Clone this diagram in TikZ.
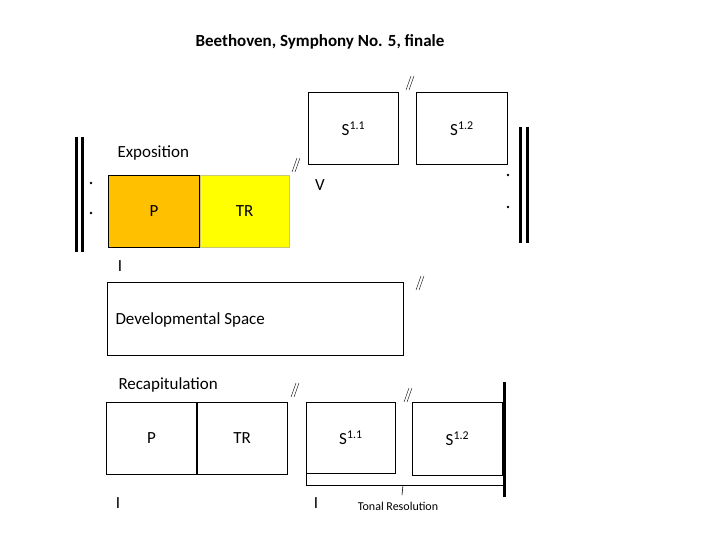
\documentclass[tikz,border=0pt]{standalone}
\usepackage{fontspec}
\setmainfont{Carlito}
\definecolor{porange}{HTML}{FFC000}
\definecolor{tryellow}{HTML}{FFFF00}
\definecolor{trborder}{HTML}{C8C878}
\begin{document}
\begin{tikzpicture}[x=1pt, y=-1pt, font=\fontsize{17}{19}\selectfont,
    box/.style={draw, line width=0.8pt, minimum width=#1, minimum height=72pt, inner sep=0pt, anchor=north west},
    bar/.style={line width=3pt},
    slashes/.pic={\draw[line width=0.4pt] (-4,7) -- (1,-7) (-1,7) -- (4,-7);}]
  \useasboundingbox (0,0) rectangle (720,540);
  \node[font=\fontsize{17}{19}\selectfont\bfseries] (title) at (320,42) {Beethoven, Symphony No. 5, finale};
  % exposition
  \node[anchor=west] (expo) at (114,153) {Exposition};
  \node[box=91pt, fill=porange] (expP) at (108,175) {P};
  \node[box=89pt, fill=tryellow, draw=trborder, anchor=west] (expTR) at (expP.east) {TR};
  \node[box=90pt] (expS11) at (308,92) {S\textsuperscript{1.1}};
  \node[box=91pt] (expS12) at (416,92) {S\textsuperscript{1.2}};
  \node (expI) at (120,266) {I};
  \node (expV) at (320,185) {V};
  \draw[bar] (76.5,137) -- (76.5,252);
  \draw[bar] (82.5,137) -- (82.5,252);
  \fill (91,183) circle (1.3) (91,213) circle (1.3);
  \draw[bar] (520.5,127) -- (520.5,243);
  \draw[bar] (527.5,127) -- (527.5,243);
  \fill (508,175) circle (1.3) (508,207) circle (1.3);
  \pic at (296,165) {slashes};
  \pic at (410,83) {slashes};
  % development
  \node[box=296pt, minimum height=73pt] (dev) at (107,282) {};
  \node[anchor=west] (devlabel) at (112,320) {Developmental Space};
  \pic at (420,283) {slashes};
  % recapitulation
  \node[anchor=west] (recap) at (115,385) {Recapitulation};
  \node[box=90pt] (recP) at (106,402) {P};
  \node[box=90pt, anchor=west] (recTR) at (recP.east) {TR};
  \node[box=89pt, minimum height=71pt] (recS11) at (306,402) {S\textsuperscript{1.1}};
  \node[box=90pt, minimum height=73pt] (recS12) at (412,402) {S\textsuperscript{1.2}};
  \draw[bar] (504,382) -- (504,497);
  \pic at (295,390) {slashes};
  \pic at (408,395) {slashes};
  \node (recI) at (118,503) {I};
  \node (recI2) at (316,503) {I};
  \node[font=\fontsize{12}{14}\selectfont] (tonal) at (398,506) {Tonal Resolution};
  \coordinate (brEnd) at (504,485);
  \coordinate (brMid) at (403,485);
  \draw[line width=0.8pt] (recS11.south west) |- (brEnd);
  \draw[line width=0.6pt] (brMid) -- ++(-1,10);
\end{tikzpicture}
\end{document}
